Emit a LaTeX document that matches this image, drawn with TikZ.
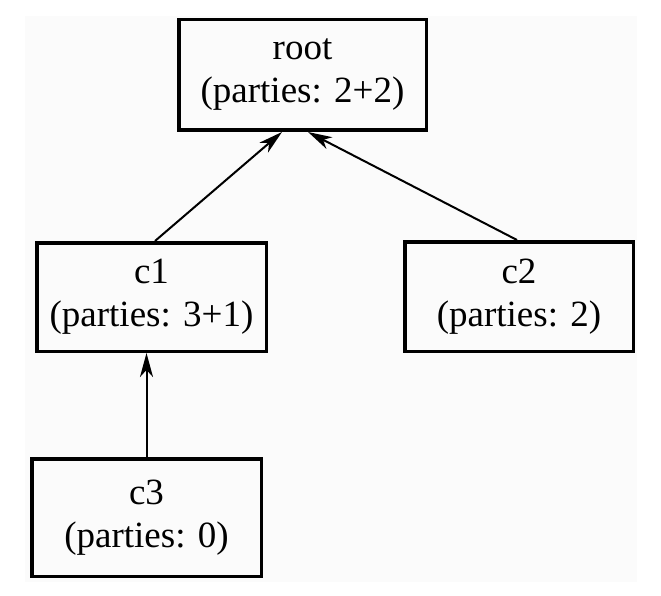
\documentclass[tikz,border=0pt]{standalone}
\usepackage{fontspec}
\setmainfont{Liberation Serif}
\usetikzlibrary{arrows.meta}
\definecolor{bgc}{HTML}{FBFBFB}
\tikzset{
  box/.style={draw=black, line width=3.5pt, fill=bgc, align=center, inner sep=0pt,
    font=\fontsize{37pt}{43pt}\selectfont},
  edge/.style={line width=2pt, -{Stealth[length=24pt,width=13pt,inset=7pt]}}
}
\begin{document}
\begin{tikzpicture}[x=1pt,y=-1pt]
\useasboundingbox (0,0) rectangle (661,596);
\fill[bgc] (25,16) rectangle (637,582);
\node[box, minimum width=247.5pt, minimum height=110.5pt] (root) at (302.5,75) {root\\(parties: 2+2)};
\node[box, minimum width=229.5pt, minimum height=108.5pt] (c1) at (151.5,297) {c1\\(parties: 3+1)};
\node[box, minimum width=228.5pt, minimum height=109.5pt] (c2) at (519,296.5) {c2\\(parties: 2)};
\node[box, minimum width=229.5pt, minimum height=117.5pt] (c3) at (146.5,517.5) {c3\\(parties: 0)};
\draw[edge] ([xshift=3.5pt]c1.north) -- ([xshift=-20.5pt]root.south);
\draw[edge] ([xshift=-2pt]c2.north) -- ([xshift=5.5pt]root.south);
\draw[edge] (c3.north) -- ([xshift=-5pt]c1.south);
\end{tikzpicture}
\end{document}
